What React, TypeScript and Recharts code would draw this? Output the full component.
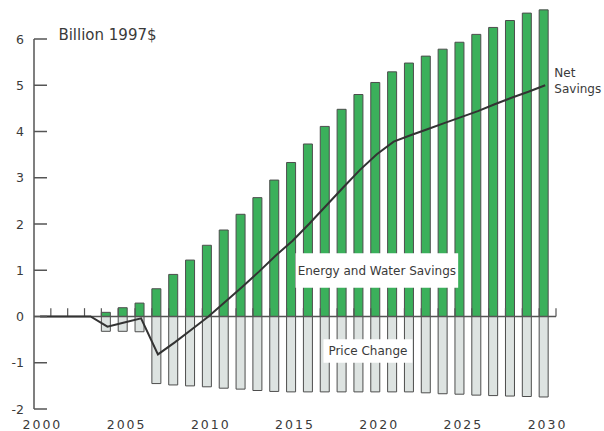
import React from 'react';
import {
  ComposedChart,
  Bar,
  Line,
  XAxis,
  YAxis,
  ReferenceLine,
  ReferenceArea,
  ReferenceDot,
} from 'recharts';

const years = [
  2000, 2001, 2002, 2003, 2004, 2005, 2006, 2007, 2008, 2009, 2010,
  2011, 2012, 2013, 2014, 2015, 2016, 2017, 2018, 2019, 2020,
  2021, 2022, 2023, 2024, 2025, 2026, 2027, 2028, 2029, 2030,
];

// green bars, Billion 1997$
const energyWaterSavings = [
  null, null, null, null, 0.09, 0.19, 0.29, 0.6, 0.91, 1.22, 1.54,
  1.87, 2.21, 2.57, 2.95, 3.33, 3.73, 4.11, 4.48, 4.8, 5.06,
  5.29, 5.48, 5.63, 5.78, 5.93, 6.1, 6.25, 6.4, 6.56, 6.63,
];

// grey bars
const priceChange = [
  null, null, null, null, -0.32, -0.32, -0.33, -1.45, -1.48, -1.5, -1.52,
  -1.55, -1.57, -1.6, -1.62, -1.63, -1.63, -1.63, -1.63, -1.63, -1.63,
  -1.63, -1.63, -1.65, -1.67, -1.68, -1.7, -1.71, -1.72, -1.73, -1.74,
];

const netSavings = [
  0, 0, 0, 0, -0.22, -0.13, -0.04, -0.82, -0.56, -0.28, 0.0,
  0.32, 0.64, 0.97, 1.32, 1.64, 2.01, 2.4, 2.79, 3.17, 3.51,
  3.78, 3.92, 4.05, 4.18, 4.31, 4.44, 4.59, 4.73, 4.86, 5.0,
];

const yTicks = [-2, -1, 0, 1, 2, 3, 4, 5, 6];
const yearEdges = [
  2001, 2002, 2003, 2004, 2005, 2006, 2007, 2008, 2009, 2010, 2011,
  2012, 2013, 2014, 2015, 2016, 2017, 2018, 2019, 2020, 2021,
  2022, 2023, 2024, 2025, 2026, 2027, 2028, 2029, 2030, 2031,
];

const data = years.map((year, i) => ({
  year,
  energy: energyWaterSavings[i],
  price: priceChange[i],
  net: netSavings[i],
}));

const FONT = '"DejaVu Sans", sans-serif';
const TEXT = '#3a3a3a';
const AXIS = '#555555';
const GREEN = '#3bb05b';
const GREY = '#dde3e1';
const BAR_STROKE = '#4d4d4d';
const Y_TICK_MARGIN = 10;

const YTick = (props: any) => {
  const { x, y, payload } = props;
  const axisX = x + Y_TICK_MARGIN;
  return (
    <g>
      <line x1={axisX} x2={axisX + 13} y1={y} y2={y} stroke={AXIS} strokeWidth={1.5} />
      <text
        x={x}
        y={y}
        dy="0.36em"
        textAnchor="end"
        fill={TEXT}
        fontSize={12.5}
        fontFamily={FONT}
      >
        {payload.value}
      </text>
    </g>
  );
};

const boxText = { position: 'center' as const, fill: TEXT, fontSize: 12, fontFamily: FONT };

const App: React.FC = () => {
  return (
    <div style={{ position: 'absolute', left: 0, top: 0, width: 604, height: 431, background: '#fff' }}>
      <ComposedChart
        width={604}
        height={431}
        data={data}
        stackOffset="sign"
        barGap={0}
        barCategoryGap={0}
        margin={{ top: 2, right: 48, bottom: 0, left: 0 }}
      >
        <XAxis
          xAxisId="cat"
          dataKey="year"
          type="category"
          interval={4}
          axisLine={false}
          tickLine={false}
          tickSize={0}
          tickMargin={11}
          height={22}
          tick={{ fontSize: 12.5, fill: TEXT, fontFamily: FONT, letterSpacing: 2 }}
        />
        <XAxis
          xAxisId="yr"
          dataKey="year"
          type="number"
          domain={[2000, 2031]}
          allowDataOverflow
          hide
        />
        <XAxis
          xAxisId="ln"
          dataKey="year"
          type="number"
          domain={[1999.64, 2030.64]}
          allowDataOverflow
          hide
        />
        <YAxis
          type="number"
          domain={[-2, 6.8]}
          ticks={yTicks}
          width={34}
          axisLine={false}
          tickLine={false}
          tickSize={0}
          tickMargin={Y_TICK_MARGIN}
          tick={<YTick />}
        />

        <Bar
          xAxisId="cat"
          dataKey="energy"
          stackId="s"
          barSize={9}
          fill={GREEN}
          stroke={BAR_STROKE}
          strokeWidth={1}
          isAnimationActive={false}
        />
        <Bar
          xAxisId="cat"
          dataKey="price"
          stackId="s"
          barSize={9}
          fill={GREY}
          stroke={BAR_STROKE}
          strokeWidth={1}
          isAnimationActive={false}
        />
        {/* empty slot so the bars sit on the left side of each year */}
        <Bar
          xAxisId="cat"
          dataKey="energy"
          stackId="pad"
          barSize={7}
          fill="none"
          stroke="none"
          isAnimationActive={false}
        />
        {/* invisible series that gives the year axis its data */}
        <Line
          xAxisId="yr"
          dataKey="net"
          stroke="none"
          dot={false}
          activeDot={false}
          legendType="none"
          isAnimationActive={false}
        />

        <ReferenceLine xAxisId="yr" y={0} stroke={AXIS} strokeWidth={1.5} />
        {yearEdges.map((yr) => (
          <ReferenceLine
            key={yr}
            xAxisId="yr"
            segment={[{ x: yr, y: 0 }, { x: yr, y: 0.18 }]}
            stroke={AXIS}
            strokeWidth={1.2}
          />
        ))}
        <ReferenceLine
          xAxisId="yr"
          segment={[{ x: 2000, y: -2 }, { x: 2000, y: 6 }]}
          stroke={AXIS}
          strokeWidth={1.5}
        />

        <ReferenceArea
          xAxisId="yr"
          x1={2015.53}
          x2={2025.19}
          y1={0.62}
          y2={1.37}
          fill="#ffffff"
          fillOpacity={1}
          stroke="none"
          zIndex={1500}
          label={{ ...boxText, value: 'Energy and Water Savings' }}
        />
        <ReferenceArea
          xAxisId="yr"
          x1={2017.19}
          x2={2022.47}
          y1={-0.49}
          y2={-1.0}
          fill="#ffffff"
          fillOpacity={1}
          stroke="none"
          zIndex={1500}
          label={{ ...boxText, value: 'Price Change' }}
        />

        <Line
          xAxisId="ln"
          dataKey="net"
          type="linear"
          stroke="#333333"
          strokeWidth={2}
          dot={false}
          activeDot={false}
          isAnimationActive={false}
        />

        <ReferenceDot
          xAxisId="yr"
          x={2001.45}
          y={6}
          r={0}
          fill="none"
          stroke="none"
          label={(p: any) => (
            <text x={p.viewBox.x} y={p.viewBox.y + 1} fill={TEXT} fontSize={15} fontFamily={FONT}>
              Billion 1997$
            </text>
          )}
        />
        <ReferenceDot
          xAxisId="yr"
          x={2030.9}
          y={5}
          r={0}
          fill="none"
          stroke="none"
          label={(p: any) => (
            <text x={p.viewBox.x} y={p.viewBox.y} fill={TEXT} fontSize={12} fontFamily={FONT}>
              <tspan x={p.viewBox.x} dy={-8}>Net</tspan>
              <tspan x={p.viewBox.x} dy={16}>Savings</tspan>
            </text>
          )}
        />
      </ComposedChart>
    </div>
  );
};

export default App;
